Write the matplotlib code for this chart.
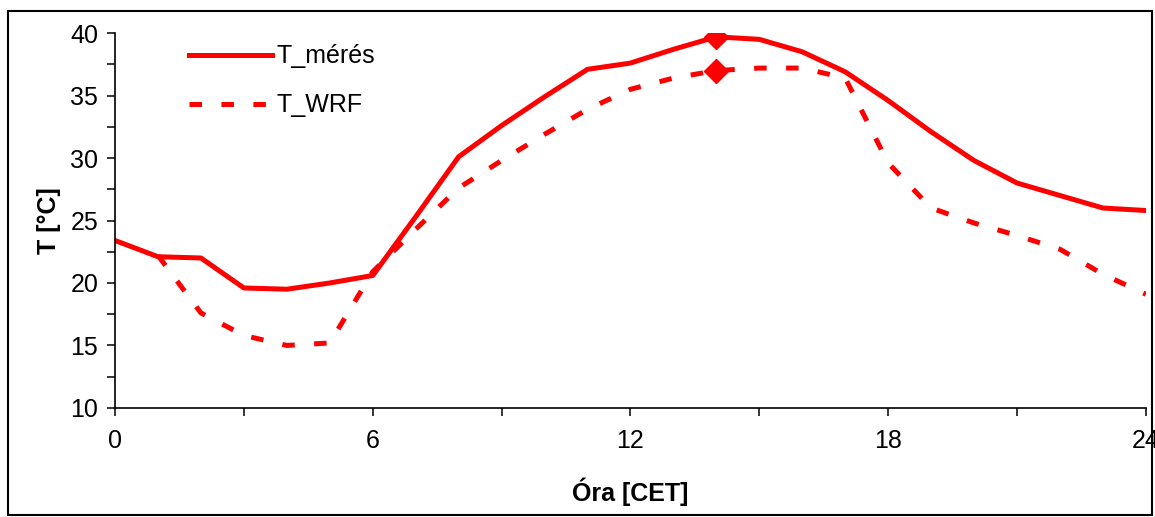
import matplotlib
matplotlib.use("Agg")
import matplotlib.pyplot as plt
from matplotlib.ticker import MultipleLocator
from matplotlib.patches import Rectangle

plt.rcParams['font.family'] = ['Liberation Sans', 'DejaVu Sans']
plt.rcParams['lines.scale_dashes'] = False

hours_meres = list(range(0, 25))
t_meres = [23.4, 22.1, 22.0, 19.6, 19.5, 20.0, 20.6, 25.3, 30.1, 32.6, 34.9,
           37.1, 37.6, 38.7, 39.7, 39.5, 38.5, 36.9, 34.6, 32.1, 29.8, 28.0,
           27.0, 26.0, 25.8]

hours_wrf = list(range(1, 25))
t_wrf = [22.2, 17.6, 15.8, 15.0, 15.2, 20.9, 24.3, 27.6, 29.8, 31.9, 33.9,
         35.5, 36.4, 37.0, 37.2, 37.2, 36.4, 29.6, 26.0, 24.8, 23.8, 22.7,
         20.7, 19.1]

peak_hour = 14
red = '#ff0000'

fig = plt.figure(figsize=(11.55, 5.17), dpi=100)
ax = fig.add_axes([0.0996, 0.211, 0.8925, 0.725])

ax.plot(hours_meres, t_meres, color=red, lw=3.6, label='T_mérés')
ax.plot(hours_wrf, t_wrf, color=red, lw=3.6, dashes=[9, 14], label='T_WRF')
ax.plot([peak_hour], [t_meres[hours_meres.index(peak_hour)]], 'D', color=red, ms=12)
ax.plot([peak_hour], [t_wrf[hours_wrf.index(peak_hour)]], 'D', color=red, ms=12)

ax.set_xlim(0, 24)
ax.set_ylim(10, 40)
ax.xaxis.set_major_locator(MultipleLocator(6))
ax.xaxis.set_minor_locator(MultipleLocator(3))
ax.yaxis.set_major_locator(MultipleLocator(5))
ax.yaxis.set_minor_locator(MultipleLocator(2.5))
ax.tick_params(axis='both', which='both', direction='out', length=6, width=1.1,
               labelsize=18)
ax.tick_params(axis='x', which='major', pad=9)
ax.tick_params(axis='y', which='major', pad=6)
for s in ['top', 'right']:
    ax.spines[s].set_visible(False)
for s in ['left', 'bottom']:
    ax.spines[s].set_linewidth(1.2)

ax.set_xlabel('Óra [CET]', fontsize=18, fontweight='bold', labelpad=18)
ax.set_ylabel('T [°C]', fontsize=18, fontweight='bold', labelpad=7)

ax.legend(loc='upper left', bbox_to_anchor=(0.05, 1.03), frameon=False,
          fontsize=18, handlelength=3.3, handletextpad=0.2, labelspacing=1.0)

fig.add_artist(Rectangle((0.007, 0.003), 0.99, 0.976, transform=fig.transFigure,
                         fill=False, edgecolor='black', lw=1.5))

fig.savefig('out.png', dpi=100)
